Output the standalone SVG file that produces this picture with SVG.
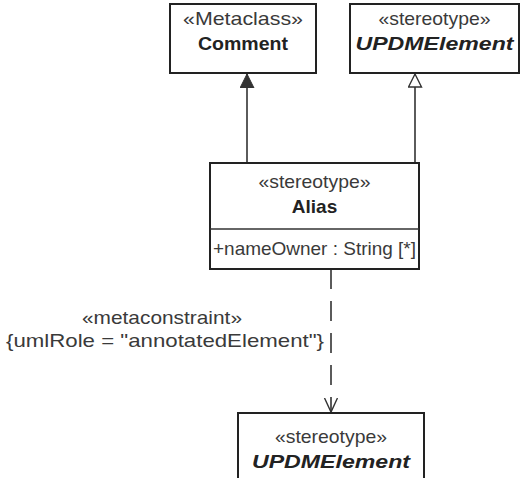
<svg xmlns="http://www.w3.org/2000/svg" width="524" height="478" viewBox="0 0 524 478">
<style>
.box{fill:#fff;stroke:#222;stroke-width:2}
.ln{fill:none;stroke:#333;stroke-width:1.6}
.t{font-family:"Liberation Sans",Arial,sans-serif;font-size:19px;fill:#3a3a3a;text-anchor:middle}
.b{font-weight:bold;fill:#222}
.i{font-style:italic}
.l{text-anchor:start}
</style>
<defs>
<marker id="filled" markerWidth="16" markerHeight="16" refX="14" refY="7" orient="auto" markerUnits="userSpaceOnUse">
<path d="M0,0 L14,7 L0,14 Z" fill="#333" stroke="#333" stroke-width="1"/>
</marker>
<marker id="hollow" markerWidth="16" markerHeight="16" refX="14" refY="7" orient="auto" markerUnits="userSpaceOnUse">
<path d="M1,0.5 L14,7 L1,13.5 Z" fill="#fff" stroke="#333" stroke-width="1.4"/>
</marker>
<marker id="open" markerWidth="16" markerHeight="16" refX="14" refY="7" orient="auto" markerUnits="userSpaceOnUse">
<path d="M0,0.5 L14,7 L0,13.5" fill="none" stroke="#333" stroke-width="1.4"/>
</marker>
</defs>
<g id="connectors">
<line class="ln" x1="247" y1="163" x2="247" y2="74" marker-end="url(#filled)"/>
<line class="ln" x1="415" y1="163" x2="415" y2="74" marker-end="url(#hollow)"/>
<line class="ln" x1="331" y1="269" x2="331" y2="412" stroke-dasharray="20,12" marker-end="url(#open)"/>
<text class="t" x="162" y="324" textLength="160" lengthAdjust="spacingAndGlyphs">«metaconstraint»</text>
<text class="t" x="165" y="347" textLength="318" lengthAdjust="spacingAndGlyphs">{umlRole = "annotatedElement"}</text>
</g>
<g id="comment">
<rect class="box" x="170" y="4" width="146" height="69"/>
<text class="t" x="243" y="25" textLength="120" lengthAdjust="spacingAndGlyphs">«Metaclass»</text>
<text class="t b" x="243" y="50" textLength="90" lengthAdjust="spacingAndGlyphs">Comment</text>
</g>
<g id="updmelement-top">
<rect class="box" x="350" y="4" width="169" height="69"/>
<text class="t" x="434.5" y="25" textLength="112" lengthAdjust="spacingAndGlyphs">«stereotype»</text>
<text class="t b i" x="434.5" y="50" textLength="158" lengthAdjust="spacingAndGlyphs">UPDMElement</text>
</g>
<g id="alias">
<rect class="box" x="210" y="163" width="209" height="106"/>
<line class="ln" x1="210" y1="229" x2="419" y2="229" stroke="#222" stroke-width="2"/>
<text class="t" x="314.5" y="188" textLength="112" lengthAdjust="spacingAndGlyphs">«stereotype»</text>
<text class="t b" x="314.5" y="213">Alias</text>
<text class="t l" x="213" y="255" textLength="203" lengthAdjust="spacingAndGlyphs">+nameOwner : String [*]</text>
</g>
<g id="updmelement-bottom">
<rect class="box" x="238" y="413" width="186" height="75"/>
<text class="t" x="331" y="443" textLength="112" lengthAdjust="spacingAndGlyphs">«stereotype»</text>
<text class="t b i" x="331" y="468" textLength="158" lengthAdjust="spacingAndGlyphs">UPDMElement</text>
</g>
</svg>
